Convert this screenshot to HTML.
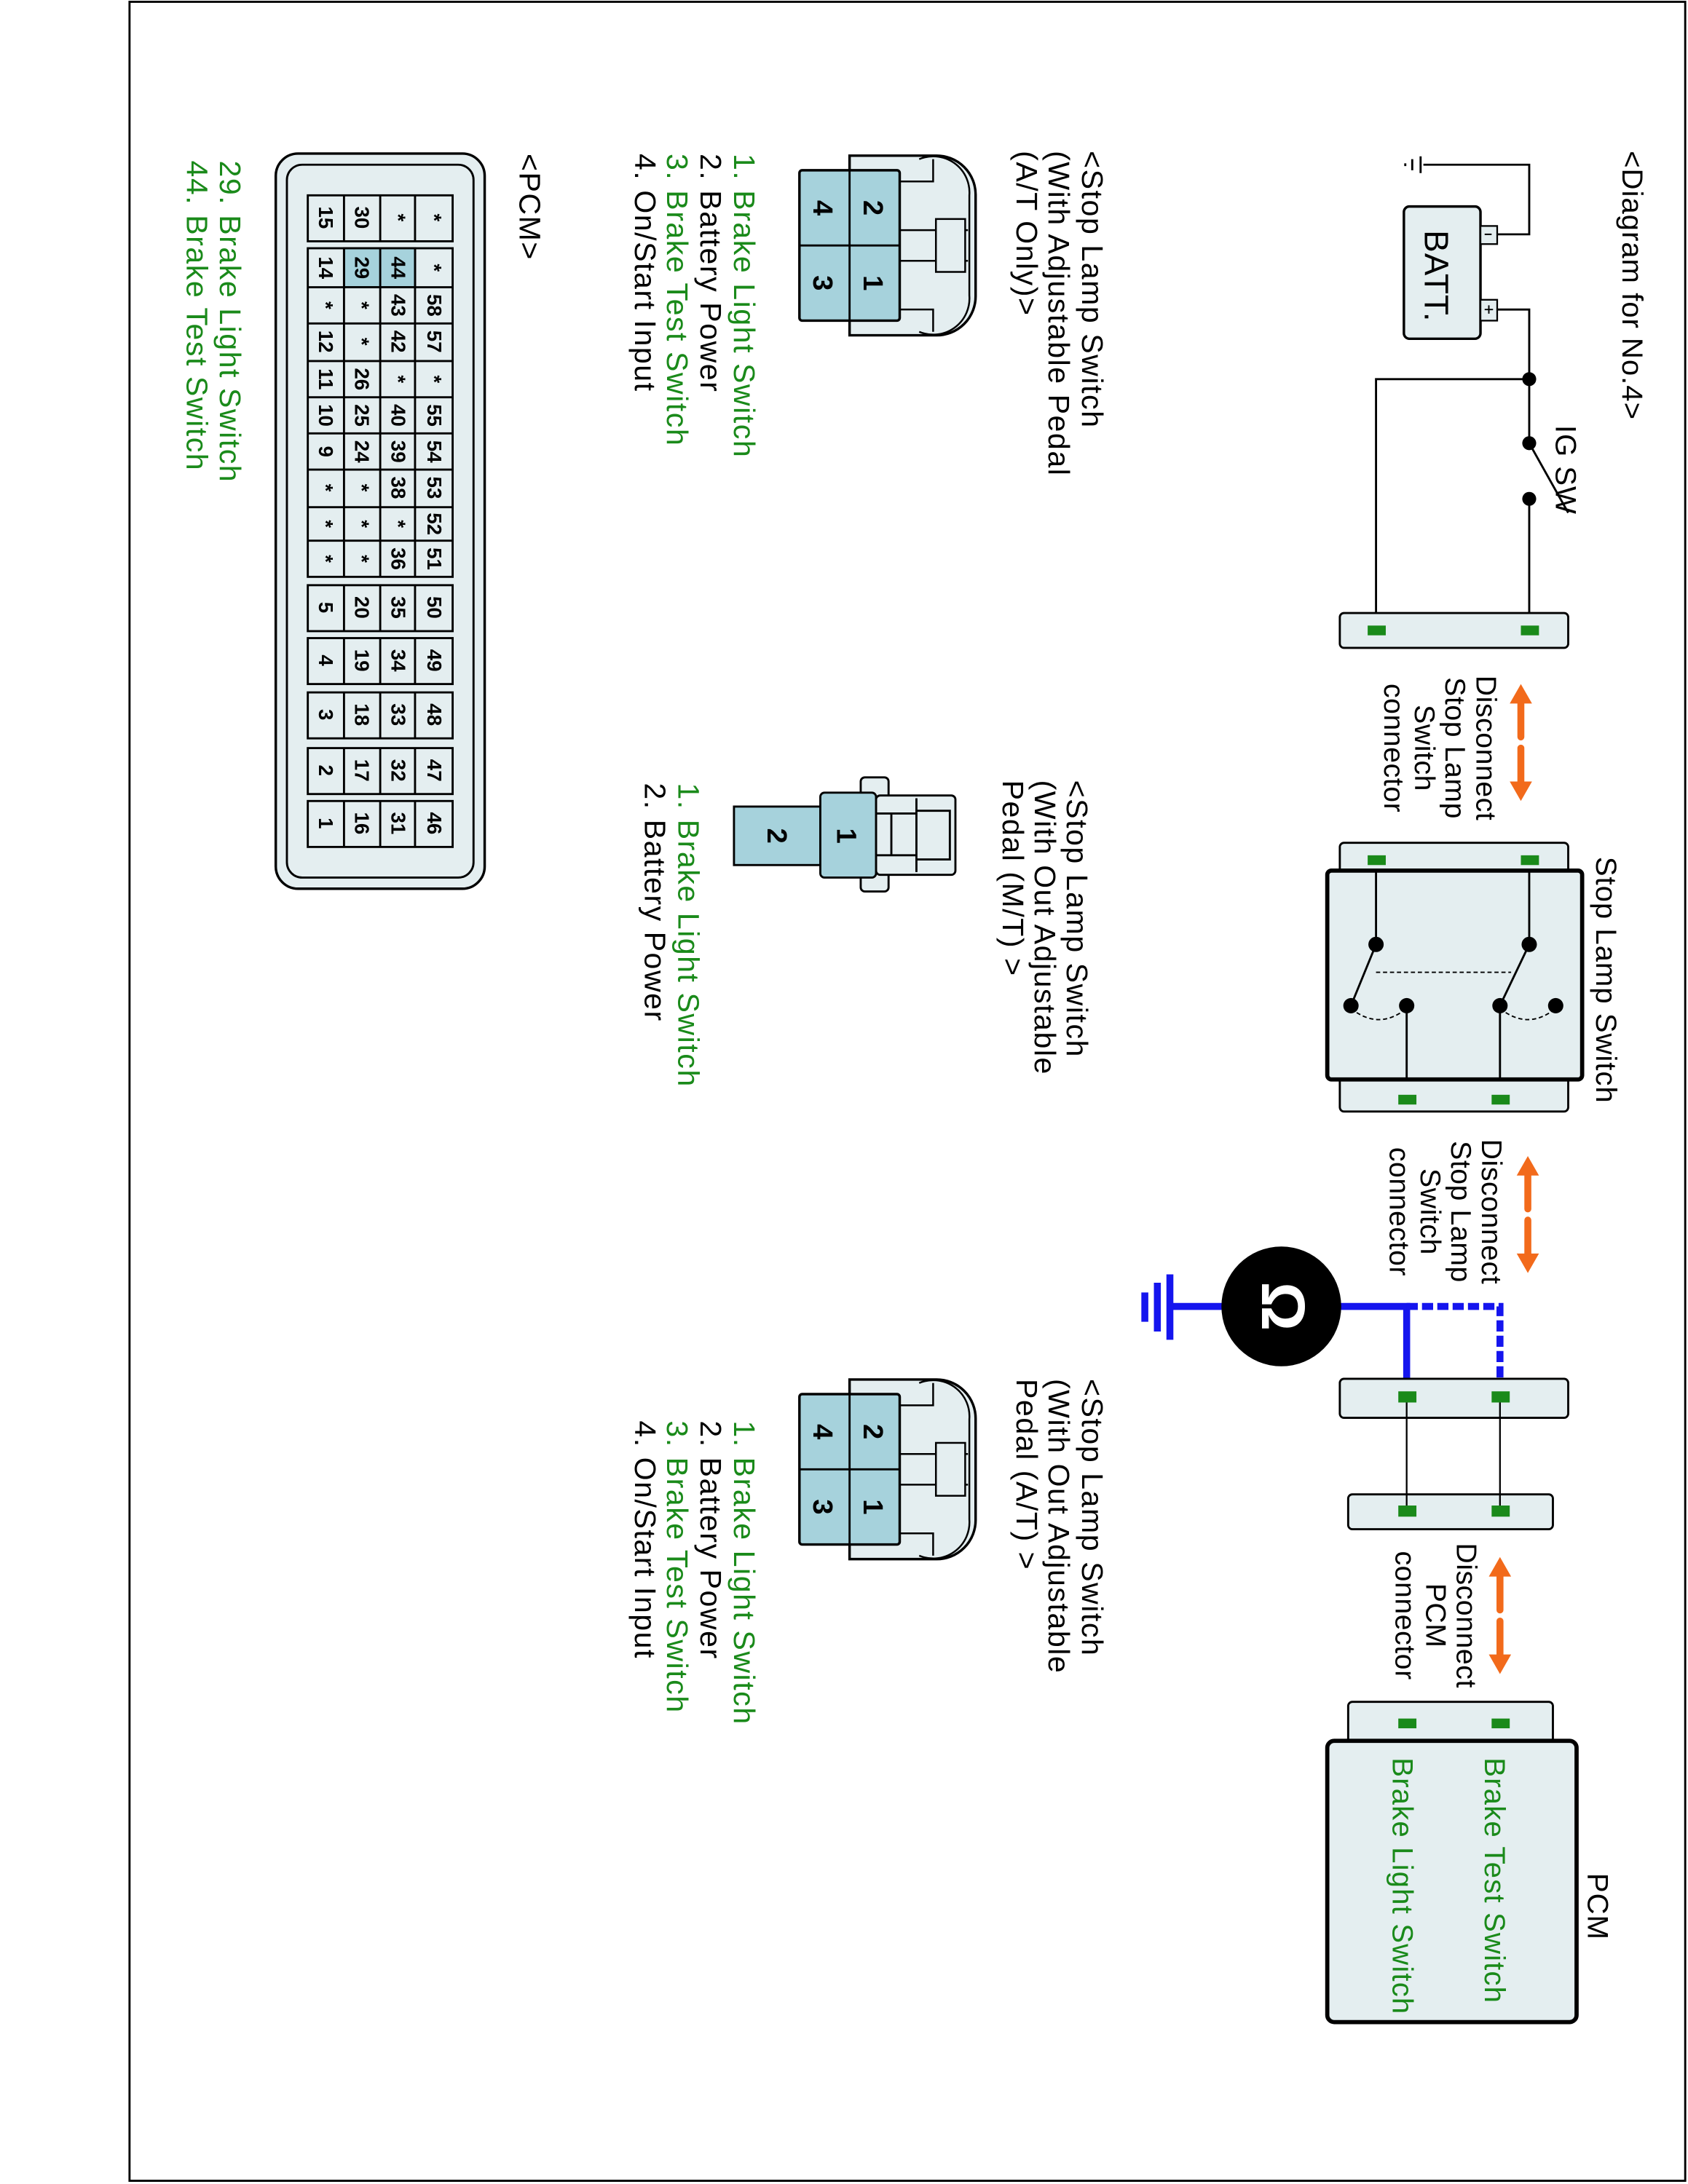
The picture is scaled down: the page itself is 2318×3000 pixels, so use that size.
<!DOCTYPE html>
<html><head><meta charset="utf-8"><style>html,body{margin:0;padding:0;background:#fff}svg{display:block}</style></head>
<body>
<svg xmlns="http://www.w3.org/2000/svg" width="2318" height="3000" viewBox="0 0 1212 1568" font-family="Liberation Sans, Arial, sans-serif">
<defs>
<g id="conn4">
  <path d="M610,111.5 H672 A28,28 0 0 1 700.5,140 V212 A28,28 0 0 1 672,240.5 H610 Z" fill="#e4eef0" stroke="#000" stroke-width="1.8"/>
  <path d="M660,114 A26,26 0 0 1 696,140 V212 A26,26 0 0 1 660,238" fill="none" stroke="#000" stroke-width="1.3"/>
  <path d="M646,130 H670 V114 M646,222 H670 V238" fill="none" stroke="#000" stroke-width="1.3"/>
  <path d="M646,165 H695 M646,187 H695" stroke="#000" stroke-width="1.3"/>
  <rect x="672" y="157" width="21" height="38" fill="#e4eef0" stroke="#000" stroke-width="1.3"/>
  <rect x="574" y="122" width="72" height="108" rx="2" fill="#a6d2dc" stroke="#000" stroke-width="1.8"/>
  <path d="M610,122 V230 M574,176 H646" stroke="#000" stroke-width="1.5"/>
</g>
<g id="arrow">
  <path d="M0,-30 V-4 M0,4 V30" stroke="#f26a1b" stroke-width="5" stroke-linecap="round"/>
  <path d="M-8,-28 L0,-42 L8,-28 Z M-8,28 L0,42 L8,28 Z" fill="#f26a1b"/>
</g>
</defs>
<rect x="93" y="1" width="1117" height="1565" fill="none" stroke="#000" stroke-width="1.5"/>

<g font-size="20.5" text-anchor="middle" letter-spacing="0.3">
<text transform="translate(1060,537) rotate(90)">Disconnect</text>
<text transform="translate(1038,537) rotate(90)">Stop Lamp</text>
<text transform="translate(1016,537) rotate(90)">Switch</text>
<text transform="translate(994,537) rotate(90)">connector</text>
<text transform="translate(1064,870) rotate(90)">Disconnect</text>
<text transform="translate(1042,870) rotate(90)">Stop Lamp</text>
<text transform="translate(1020,870) rotate(90)">Switch</text>
<text transform="translate(998,870) rotate(90)">connector</text>
<text transform="translate(1046,1160) rotate(90)">Disconnect</text>
<text transform="translate(1024,1160) rotate(90)">PCM</text>
<text transform="translate(1002,1160) rotate(90)">connector</text>
</g>
<use href="#arrow" transform="translate(1092,533)"/>
<use href="#arrow" transform="translate(1097,872)"/>
<use href="#arrow" transform="translate(1077,1160)"/>

<!-- battery circuit -->
<g stroke="#000" stroke-width="1.5" fill="none">
<path d="M1075,168 H1098 V118 H1022"/>
<path d="M1020,112 V124 M1014,114 V122 M1009,117 V119"/>
<path d="M1075,222 H1098 V318"/>
<path d="M1098,272 H988 V452"/>
<path d="M1098,358 V452"/>
<path d="M1098,318 L1126,368"/>
</g>
<rect x="1008" y="148" width="55" height="95" rx="4" fill="#e4eef0" stroke="#000" stroke-width="1.8"/>
<rect x="1063" y="162" width="12" height="13" fill="#e4eef0" stroke="#000" stroke-width="1.2"/>
<rect x="1063" y="215" width="12" height="15" fill="#e4eef0" stroke="#000" stroke-width="1.2"/>
<path d="M1066,168 H1071 M1066,222 H1072 M1069,219 V225" stroke="#000" stroke-width="1"/>
<circle cx="1098" cy="272" r="5" fill="#000"/>
<circle cx="1098" cy="318" r="5" fill="#000"/>
<circle cx="1098" cy="358" r="5" fill="#000"/>
<rect x="962" y="440" width="164" height="25" rx="3" fill="#e4eef0" stroke="#000" stroke-width="1.5"/>
<rect x="982" y="449" width="13" height="7" fill="#1a8a1a"/><rect x="1092" y="449" width="13" height="7" fill="#1a8a1a"/>

<!-- stop lamp switch -->
<rect x="962" y="605" width="164" height="28" rx="3" fill="#e4eef0" stroke="#000" stroke-width="1.5"/>
<rect x="962" y="768" width="164" height="30" rx="3" fill="#e4eef0" stroke="#000" stroke-width="1.5"/>
<rect x="953" y="625" width="183" height="150" rx="3" fill="#e4eef0" stroke="#000" stroke-width="3"/>
<rect x="982" y="614" width="13" height="7" fill="#1a8a1a"/><rect x="1092" y="614" width="13" height="7" fill="#1a8a1a"/>
<rect x="1004" y="786" width="13" height="7" fill="#1a8a1a"/><rect x="1071" y="786" width="13" height="7" fill="#1a8a1a"/>
<g stroke="#000" stroke-width="1.5" fill="none">
<path d="M1098,625 V678 L1077,722 M1077,722 V775"/>
<path d="M988,625 V678 L970,722 M1010,722 V775"/>
<path d="M988,698 H1085" stroke-dasharray="3,2" stroke-width="1"/>
<path d="M1077,724 Q1097,740 1117,724" stroke-dasharray="3,2" stroke-width="1"/>
<path d="M970,724 Q990,740 1010,724" stroke-dasharray="3,2" stroke-width="1"/>
</g>
<circle cx="1098" cy="678" r="5.5" fill="#000"/><circle cx="1077" cy="722" r="5.5" fill="#000"/><circle cx="1117" cy="722" r="5.5" fill="#000"/>
<circle cx="988" cy="678" r="5.5" fill="#000"/><circle cx="970" cy="722" r="5.5" fill="#000"/><circle cx="1010" cy="722" r="5.5" fill="#000"/>

<!-- meter -->
<g stroke="#1515ee" stroke-width="5" fill="none">
<path d="M962,938 H1010 V1003"/>
<path d="M1010,938 H1077 V1003" stroke-dasharray="8,3"/>
<path d="M878,938 H842"/>
<path d="M840,915 V962" />
<path d="M831,921 V956"/>
<path d="M822,928 V949"/>
</g>
<circle cx="920" cy="938" r="43" fill="#000"/>
<text transform="translate(906,938) rotate(90)" font-size="44" font-weight="bold" fill="#fff" text-anchor="middle">Ω</text>
<rect x="962" y="990" width="164" height="28" rx="3" fill="#e4eef0" stroke="#000" stroke-width="1.5"/>
<rect x="968" y="1073" width="147" height="25" rx="3" fill="#e4eef0" stroke="#000" stroke-width="1.5"/>
<path d="M1010,1003 V1085 M1077,1003 V1085" stroke="#000" stroke-width="1.2"/>
<rect x="1004" y="999" width="13" height="8" fill="#1a8a1a"/><rect x="1071" y="999" width="13" height="8" fill="#1a8a1a"/>
<rect x="1004" y="1081" width="13" height="8" fill="#1a8a1a"/><rect x="1071" y="1081" width="13" height="8" fill="#1a8a1a"/>

<!-- PCM -->
<rect x="968" y="1222" width="147" height="32" rx="3" fill="#e4eef0" stroke="#000" stroke-width="1.5"/>
<rect x="953" y="1250" width="179" height="202" rx="5" fill="#e4eef0" stroke="#000" stroke-width="3"/>
<rect x="1004" y="1234" width="13" height="7" fill="#1a8a1a"/><rect x="1071" y="1234" width="13" height="7" fill="#1a8a1a"/>

<g font-size="21" fill="#000" letter-spacing="0.5">
<text transform="translate(1165,108) rotate(90)">&lt;Diagram for No.4&gt;</text>
<text transform="translate(1117,305) rotate(90)">IG SW</text>
<text transform="translate(1146,615) rotate(90)">Stop Lamp Switch</text>
<text transform="translate(1140,1345) rotate(90)">PCM</text>
<text transform="translate(1023,165) rotate(90)" font-size="24">BATT.</text>
</g>
<g font-size="21" fill="#1a8a1a" letter-spacing="0.6">
<text transform="translate(1066,1262) rotate(90)">Brake Test Switch</text>
<text transform="translate(1000,1262) rotate(90)">Brake Light Switch</text>
</g>

<!-- left side connectors -->
<use href="#conn4"/>
<use href="#conn4" transform="translate(0,879)"/>
<g font-size="20" font-weight="bold" text-anchor="middle">
<text transform="translate(620,149) rotate(90)">2</text>
<text transform="translate(620,203) rotate(90)">1</text>
<text transform="translate(584,149) rotate(90)">4</text>
<text transform="translate(584,203) rotate(90)">3</text>
<text transform="translate(620,1028) rotate(90)">2</text>
<text transform="translate(620,1082) rotate(90)">1</text>
<text transform="translate(584,1028) rotate(90)">4</text>
<text transform="translate(584,1082) rotate(90)">3</text>
</g>

<g stroke="#000" stroke-width="1.5">
<rect x="618" y="558" width="20" height="82" rx="3" fill="#e4eef0"/>
<rect x="629" y="571" width="57" height="57" rx="3" fill="#e4eef0"/>
<path d="M629,584 H658 M629,614 H658 M640,584 V614 M658,573 V626 M658,582 H682 V617 H658" fill="none"/>
<rect x="527" y="579" width="62" height="42" fill="#a6d2dc"/>
<rect x="589" y="569" width="40" height="61" rx="3" fill="#a6d2dc"/>
</g>
<g font-size="20" font-weight="bold" text-anchor="middle">
<text transform="translate(551,600) rotate(90)">2</text>
<text transform="translate(601,600) rotate(90)">1</text>
</g>

<g font-size="21.5" letter-spacing="0.8">
<text transform="translate(777,108) rotate(90)">&lt;Stop Lamp Switch</text>
<text transform="translate(753,108) rotate(90)">(With Adjustable Pedal</text>
<text transform="translate(730,108) rotate(90)">(A/T Only)&gt;</text>
<text transform="translate(527,110) rotate(90)" fill="#1a8a1a">1. Brake Light Switch</text>
<text transform="translate(503,110) rotate(90)">2. Battery Power</text>
<text transform="translate(479,110) rotate(90)" fill="#1a8a1a">3. Brake Test Switch</text>
<text transform="translate(456,110) rotate(90)">4. On/Start Input</text>

<text transform="translate(766,560) rotate(90)">&lt;Stop Lamp Switch</text>
<text transform="translate(743,560) rotate(90)">(With Out Adjustable</text>
<text transform="translate(720,560) rotate(90)">Pedal (M/T) &gt;</text>
<text transform="translate(487,562) rotate(90)" fill="#1a8a1a">1. Brake Light Switch</text>
<text transform="translate(463,562) rotate(90)">2. Battery Power</text>

<text transform="translate(777,990) rotate(90)">&lt;Stop Lamp Switch</text>
<text transform="translate(753,990) rotate(90)">(With Out Adjustable</text>
<text transform="translate(730,990) rotate(90)">Pedal (A/T) &gt;</text>
<text transform="translate(527,1020) rotate(90)" fill="#1a8a1a">1. Brake Light Switch</text>
<text transform="translate(503,1020) rotate(90)">2. Battery Power</text>
<text transform="translate(479,1020) rotate(90)" fill="#1a8a1a">3. Brake Test Switch</text>
<text transform="translate(456,1020) rotate(90)">4. On/Start Input</text>

<text transform="translate(373,110) rotate(90)">&lt;PCM&gt;</text>
<text transform="translate(158,115) rotate(90)" fill="#1a8a1a">29. Brake Light Switch</text>
<text transform="translate(134,115) rotate(90)" fill="#1a8a1a">44. Brake Test Switch</text>
</g>

<!-- PCM connector -->
<rect x="198" y="110" width="150" height="528" rx="16" fill="#e4eef0" stroke="#000" stroke-width="1.8"/>
<rect x="206" y="118" width="134" height="512" rx="11" fill="none" stroke="#000" stroke-width="1.5"/>
<g stroke="#000" stroke-width="1.5">
<rect x="221" y="140" width="104" height="33" fill="none"/>
<rect x="221" y="178" width="104" height="236" fill="none"/>
<rect x="247" y="178" width="51" height="28" fill="#a6d2dc"/>
<rect x="221" y="420" width="104" height="33" fill="none"/>
<rect x="221" y="458" width="104" height="33" fill="none"/>
<rect x="221" y="497" width="104" height="33" fill="none"/>
<rect x="221" y="537" width="104" height="33" fill="none"/>
<rect x="221" y="575" width="104" height="33" fill="none"/>
<path d="M247,140 V173 M273,140 V173 M298,140 V173 M247,178 V414 M273,178 V414 M298,178 V414 M221,206 H325 M221,232 H325 M221,259 H325 M221,285 H325 M221,311 H325 M221,337 H325 M221,364 H325 M221,388 H325
M247,420 V453 M273,420 V453 M298,420 V453 M247,458 V491 M273,458 V491 M298,458 V491 M247,497 V530 M273,497 V530 M298,497 V530 M247,537 V570 M273,537 V570 M298,537 V570 M247,575 V608 M273,575 V608 M298,575 V608" fill="none"/>
</g>
<g font-size="14.5" font-weight="bold" text-anchor="middle">
<text transform="translate(229,156) rotate(90)">15</text>
<text transform="translate(229,192) rotate(90)">14</text>
<text transform="translate(229,219) rotate(90)">*</text>
<text transform="translate(229,245) rotate(90)">12</text>
<text transform="translate(229,272) rotate(90)">11</text>
<text transform="translate(229,298) rotate(90)">10</text>
<text transform="translate(229,324) rotate(90)">9</text>
<text transform="translate(229,350) rotate(90)">*</text>
<text transform="translate(229,376) rotate(90)">*</text>
<text transform="translate(229,401) rotate(90)">*</text>
<text transform="translate(229,436) rotate(90)">5</text>
<text transform="translate(229,474) rotate(90)">4</text>
<text transform="translate(229,513) rotate(90)">3</text>
<text transform="translate(229,553) rotate(90)">2</text>
<text transform="translate(229,591) rotate(90)">1</text>

<text transform="translate(255,156) rotate(90)">30</text>
<text transform="translate(255,192) rotate(90)">29</text>
<text transform="translate(255,219) rotate(90)">*</text>
<text transform="translate(255,245) rotate(90)">*</text>
<text transform="translate(255,272) rotate(90)">26</text>
<text transform="translate(255,298) rotate(90)">25</text>
<text transform="translate(255,324) rotate(90)">24</text>
<text transform="translate(255,350) rotate(90)">*</text>
<text transform="translate(255,376) rotate(90)">*</text>
<text transform="translate(255,401) rotate(90)">*</text>
<text transform="translate(255,436) rotate(90)">20</text>
<text transform="translate(255,474) rotate(90)">19</text>
<text transform="translate(255,513) rotate(90)">18</text>
<text transform="translate(255,553) rotate(90)">17</text>
<text transform="translate(255,591) rotate(90)">16</text>

<text transform="translate(281,156) rotate(90)">*</text>
<text transform="translate(281,192) rotate(90)">44</text>
<text transform="translate(281,219) rotate(90)">43</text>
<text transform="translate(281,245) rotate(90)">42</text>
<text transform="translate(281,272) rotate(90)">*</text>
<text transform="translate(281,298) rotate(90)">40</text>
<text transform="translate(281,324) rotate(90)">39</text>
<text transform="translate(281,350) rotate(90)">38</text>
<text transform="translate(281,376) rotate(90)">*</text>
<text transform="translate(281,401) rotate(90)">36</text>
<text transform="translate(281,436) rotate(90)">35</text>
<text transform="translate(281,474) rotate(90)">34</text>
<text transform="translate(281,513) rotate(90)">33</text>
<text transform="translate(281,553) rotate(90)">32</text>
<text transform="translate(281,591) rotate(90)">31</text>

<text transform="translate(307,156) rotate(90)">*</text>
<text transform="translate(307,192) rotate(90)">*</text>
<text transform="translate(307,219) rotate(90)">58</text>
<text transform="translate(307,245) rotate(90)">57</text>
<text transform="translate(307,272) rotate(90)">*</text>
<text transform="translate(307,298) rotate(90)">55</text>
<text transform="translate(307,324) rotate(90)">54</text>
<text transform="translate(307,350) rotate(90)">53</text>
<text transform="translate(307,376) rotate(90)">52</text>
<text transform="translate(307,401) rotate(90)">51</text>
<text transform="translate(307,436) rotate(90)">50</text>
<text transform="translate(307,474) rotate(90)">49</text>
<text transform="translate(307,513) rotate(90)">48</text>
<text transform="translate(307,553) rotate(90)">47</text>
<text transform="translate(307,591) rotate(90)">46</text>
</g>
</svg>
</body></html>
